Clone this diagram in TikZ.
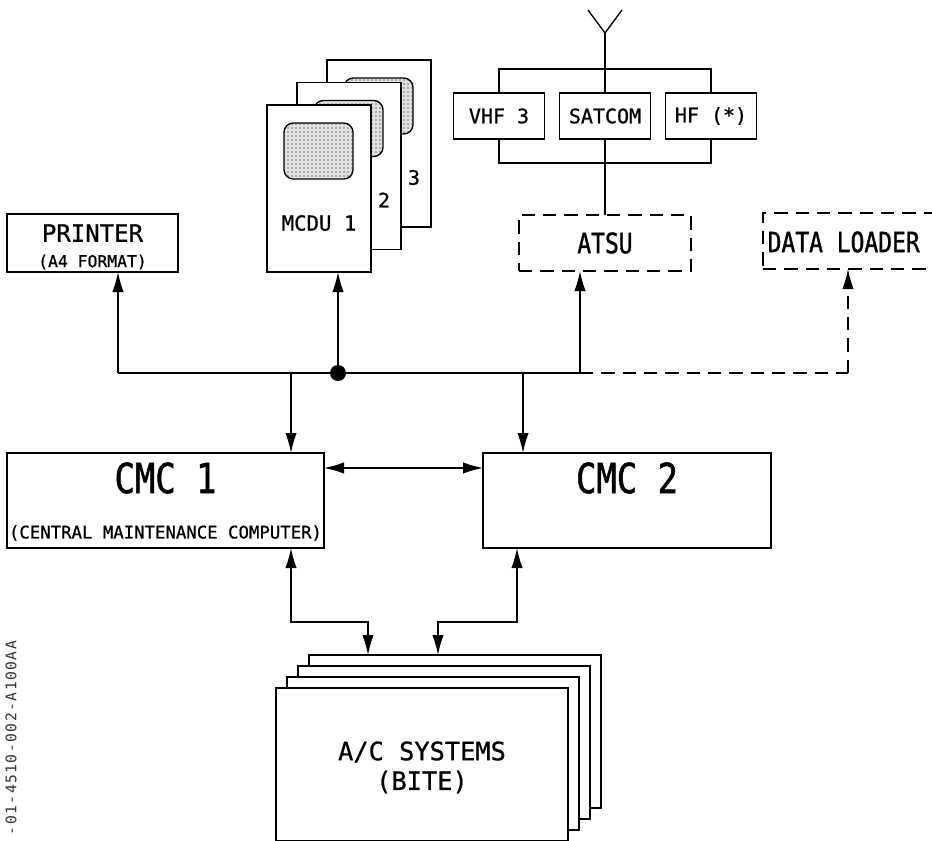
\documentclass[tikz,border=0pt]{standalone}
\usepackage{fontspec}
\newfontfamily\dwgfont[FakeBold=0.8]{DejaVu Sans Mono}
\newfontfamily\dwgcond[FakeBold=1.2,FakeStretch=0.82]{DejaVu Sans Mono}
\newfontfamily\reffont[LetterSpace=10]{DejaVu Sans Mono}
\newcommand{\dwgsize}[1]{\dwgfont\fontsize{#1}{#1}\selectfont}
\newcommand{\condsize}[1]{\dwgcond\fontsize{#1}{#1}\selectfont}
\usetikzlibrary{arrows.meta,patterns}

\begin{document}
\begin{tikzpicture}[x=0.75pt, y=-0.75pt, line width=1pt, >={Latex[length=15pt,width=8.5pt]}]
    \tikzstyle{box}=[draw, fill=white, inner sep=0pt, outer sep=0pt]
    \tikzstyle{dashline}=[dash pattern=on 10pt off 6pt]
    \tikzstyle{dashbox}=[box, dashline]
    \tikzstyle{radio}=[box, minimum width=68.25pt, minimum height=34.5pt, font=\dwgsize{15pt}]
    \tikzstyle{card}=[box, minimum width=78pt, minimum height=125.25pt]
    \tikzstyle{screen}=[draw, rounded corners=7pt, inner sep=0pt,
        minimum width=51.75pt, minimum height=42pt,
        preaction={fill=black!12}, pattern=dots, pattern color=black]
    \tikzstyle{cmc}=[box, minimum height=71.25pt]
    \tikzstyle{system}=[box, minimum width=219pt, minimum height=114.75pt]
    \tikzstyle{annot}=[inner sep=0pt]

    \clip (0,0) rectangle (932,840);

    % MCDU stack, back card first
    \foreach \m [count=\y] in {3,2,1} {
    \node [card] (mcdu-\m) at ({319+30*(\m-1)},{188.5-22.5*(\m-1)}) {};
    \node [screen] (screen-\m) at ({318.5+30*(\m-1)},{151-22.5*(\m-1)}) {};
    }
    \foreach \m in {2,3}
    \node [annot, font=\dwgsize{15pt}] (mcdu-num-\m) at ({354+30*(\m-1)},{222.5-22.5*(\m-1)}) {\m};
    \node [annot, font=\dwgsize{15.5pt}] (mcdu-name) at (319,223) {MCDU 1};

    % radios and antenna
    \foreach \m/\t [count=\i] in {vhf/VHF 3, satcom/SATCOM, hf/HF (*)}
    \node [radio] (\m) at ({393+106*\i},116) {\t};
    \coordinate (rail-top) at (605,69);
    \coordinate (rail-bot) at (605,163);
    \coordinate (ant) at (605,33);
    \coordinate (ant-l) at (588,10);
    \coordinate (ant-r) at (622,10);

    \node [dashbox, minimum width=129pt, minimum height=42pt, font=\condsize{21pt}] (atsu) at (605,243) {ATSU};
    \node [dashbox, minimum width=140.25pt, minimum height=42pt] (loader) at (856.5,241) {};
    \node [annot, anchor=west, font=\condsize{21pt}] (loader-name) at (767,242) {DATA LOADER};

    \node [box, minimum width=128.25pt, minimum height=43.5pt] (printer) at (92.5,243) {};
    \node [annot, font=\dwgsize{18pt}] (printer-name) at (92.5,233) {PRINTER};
    \node [annot, font=\dwgsize{12.3pt}] (printer-format) at (92.5,262) {(A4 FORMAT)};

    % CMC boxes
    \node [cmc, minimum width=237.75pt] (cmc-1) at (165.5,500.5) {};
    \node [cmc, minimum width=216pt] (cmc-2) at (627,500.5) {};
    \node [annot, font=\condsize{31pt}] (cmc-1-name) at (165.5,478) {CMC 1};
    \node [annot, font=\condsize{31pt}] (cmc-2-name) at (627,478) {CMC 2};
    \node [annot, font=\dwgsize{13pt}] (cmc-1-full) at (165.5,533) {(CENTRAL MAINTENANCE COMPUTER)};

    % A/C systems stack, back sheet first
    \foreach \k in {3,2,1,0}
    \node [system] (acs-\k) at ({422+11*\k},{764.5-11*\k}) {};
    \node [annot, font=\dwgsize{19pt}] (acs-name) at (422,752) {A/C SYSTEMS};
    \node [annot, font=\dwgsize{19pt}] (acs-bite) at (422,782) {(BITE)};

    \node [annot, rotate=90, font=\reffont\fontsize{11pt}{11pt}\selectfont, text=black!80] (drawing-ref) at (11,738) {-01-4510-002-A100AA};

    % Draw the antenna and radio rails
    \draw (ant-l) -- (ant) -- (ant-r);
    \draw (ant) -- (satcom.north);
    \draw (vhf.north) -- (vhf.north |- rail-top) -- (hf.north |- rail-top) -- (hf.north);
    \draw (vhf.south) -- (vhf.south |- rail-bot) -- (hf.south |- rail-bot) -- (hf.south);
    \draw (satcom.south) -- (atsu.north);

    % Draw the bus
    \coordinate (bus-l) at (118,373);
    \coordinate (bus-r) at (580,373);
    \coordinate (bus-dl) at (848,373);
    \coordinate (drop-1) at (291,373);
    \coordinate (drop-2) at (523,373);
    \node [circle, fill, minimum size=12pt, inner sep=0pt] (junction) at (338,373) {};
    \draw (bus-l) -- (bus-r);
    \draw [dashline] (bus-r) -- (bus-dl);
    \draw [dashline,->] (bus-dl) -- (bus-dl |- loader.south);
    \draw [->] (bus-l) -- (bus-l |- printer.south);
    \draw [->] (junction.center) -- (junction.center |- mcdu-1.south);
    \draw [->] (bus-r) -- (bus-r |- atsu.south);
    \draw [->] (drop-1) -- (drop-1 |- cmc-1.north);
    \draw [->] (drop-2) -- (drop-2 |- cmc-2.north);

    % CMC to CMC and CMC to A/C systems
    \draw [<->] ([yshift=24.4pt]cmc-1.east) -- ([yshift=24.4pt]cmc-2.west);
    \coordinate (ret-1) at (291,622);
    \coordinate (ret-2) at (517,622);
    \coordinate (in-1) at (368,622);
    \coordinate (in-2) at (438,622);
    \draw [<->] (ret-1 |- cmc-1.south) -- (ret-1) -- (in-1) -- (in-1 |- acs-3.north);
    \draw [<->] (ret-2 |- cmc-2.south) -- (ret-2) -- (in-2) -- (in-2 |- acs-3.north);

\end{tikzpicture}
\end{document}
